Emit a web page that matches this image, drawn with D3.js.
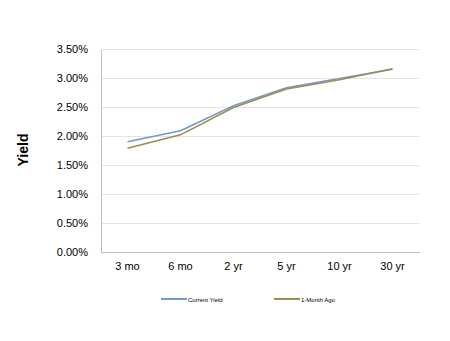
<!DOCTYPE html>
<html><head><meta charset="utf-8">
<script src="https://cdn.jsdelivr.net/npm/d3@7"></script>
<style>body{margin:0;background:#fff}svg{display:block}text{font-family:Arial,"Liberation Sans",sans-serif}</style>
</head><body><svg id="c" width="450" height="341"></svg>
<script>
const categories = ["3 mo","6 mo","2 yr","5 yr","10 yr","30 yr"];
const currentYield = [1.90, 2.09, 2.52, 2.83, 2.99, 3.15];
const monthAgo = [1.79, 2.02, 2.49, 2.81, 2.97, 3.16];
const yTicks = [0,0.5,1,1.5,2,2.5,3,3.5];
const seriesNames = ["Current Yield","1-Month Ago"];
const colors = ["#6f9bcc","#9e8d4c"];

const svg = d3.select("#c");
const m = {l:101, r:419, t:49, b:252};
const x = d3.scaleBand().domain(categories).range([m.l, m.r]);
const y = d3.scaleLinear().domain([0,3.5]).range([m.b, m.t]);

svg.append("g").selectAll("line").data(yTicks.slice(1)).join("line")
  .attr("x1", m.l).attr("x2", m.r).attr("y1", d=>y(d)).attr("y2", d=>y(d))
  .attr("stroke","#e4e4e4").attr("stroke-width",1).attr("shape-rendering","crispEdges");

const ya = svg.append("g").attr("transform",`translate(${m.l},0)`)
  .call(d3.axisLeft(y).tickValues(yTicks).tickFormat(d=>d.toFixed(2)+"%").tickSize(0).tickPadding(13));
ya.select(".domain").attr("stroke","#bfbfbf").attr("shape-rendering","crispEdges");
ya.selectAll("text").attr("font-size",11).attr("fill","#000");

const xa = svg.append("g").attr("transform",`translate(0,${m.b})`)
  .call(d3.axisBottom(x).tickSize(0).tickPadding(10));
xa.select(".domain").attr("stroke","#bfbfbf").attr("shape-rendering","crispEdges");
xa.selectAll("text").attr("font-size",11).attr("fill","#000");

svg.append("text").attr("transform","translate(28,150) rotate(-90)")
  .attr("text-anchor","middle").attr("font-size",14).attr("font-weight","bold").text("Yield");

const line = d3.line().x((d,i)=>x(categories[i])+x.bandwidth()/2).y(d=>y(d));
svg.append("path").datum(currentYield).attr("d",line).attr("fill","none").attr("stroke",colors[0]).attr("stroke-width",1.6);
svg.append("path").datum(monthAgo).attr("d",line).attr("fill","none").attr("stroke",colors[1]).attr("stroke-width",1.6);

const lg = [{x:161},{x:274}];
lg.forEach((p,i)=>{
  svg.append("line").attr("x1",p.x).attr("x2",p.x+26).attr("y1",299).attr("y2",299)
    .attr("stroke",colors[i]).attr("stroke-width",2);
  svg.append("text").attr("x",p.x+27).attr("y",301.5).attr("font-size",6).text(seriesNames[i]);
});
</script></body></html>
